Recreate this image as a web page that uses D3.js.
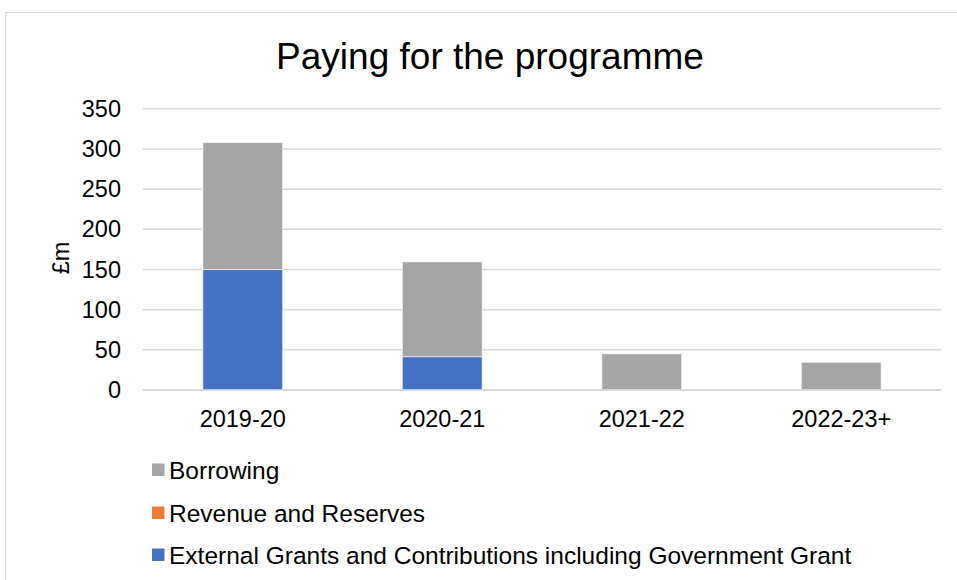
<!DOCTYPE html>
<html>
<head>
<meta charset="utf-8">
<script src="https://cdn.jsdelivr.net/npm/d3@7"></script>
<style>
  html, body { margin: 0; padding: 0; background: #fff; }
  svg { display: block; font-family: "Liberation Sans", Arial, sans-serif; }
</style>
</head>
<body>
<svg id="chart" width="957" height="580"></svg>
<script>
// Funding sources by year (£m)
const categories = ["2019-20", "2020-21", "2021-22", "2022-23+"];
const externalGrants = [150, 41.5, 0, 0];
const revenueReserves = [0, 0, 0, 0];
const borrowing = [158, 118, 45, 34.5];
const yTicks = [0, 50, 100, 150, 200, 250, 300, 350];

const seriesNames = [
  "External Grants and Contributions including Government Grant",
  "Revenue and Reserves",
  "Borrowing"
];
const seriesColors = ["#4472c4", "#ed7d31", "#a5a5a5"];

const rows = categories.map((c, i) => ({
  cat: c,
  [seriesNames[0]]: externalGrants[i],
  [seriesNames[1]]: revenueReserves[i],
  [seriesNames[2]]: borrowing[i]
}));

const svg = d3.select("#chart");

// chart frame
svg.append("rect")
  .attr("x", 5.5).attr("y", 12.5)
  .attr("width", 1200).attr("height", 1000)
  .attr("fill", "#fff").attr("stroke", "#d9d9d9").attr("stroke-width", 1);

const plot = { left: 143, right: 941, top: 108.8, bottom: 390 };

const x = d3.scaleBand().domain(categories)
  .range([plot.left, plot.right])
  .paddingInner(0.6).paddingOuter(0.3);

const y = d3.scaleLinear().domain([0, 350]).range([plot.bottom, plot.top]);

// gridlines
svg.append("g")
  .selectAll("line")
  .data(yTicks)
  .join("line")
  .attr("x1", plot.left).attr("x2", plot.right)
  .attr("y1", d => y(d)).attr("y2", d => y(d))
  .attr("stroke", "#d9d9d9").attr("stroke-width", 1.5);

// y axis labels
const yAxis = d3.axisLeft(y).tickValues(yTicks).tickSize(0).tickPadding(0);
svg.append("g")
  .attr("transform", `translate(121,0)`)
  .call(yAxis)
  .call(g => g.select(".domain").remove())
  .selectAll("text")
  .attr("font-size", 23.5)
  .attr("font-family", "Liberation Sans, Arial, sans-serif")
  .attr("fill", "#000");

// y axis title
svg.append("text")
  .attr("transform", "translate(69,258) rotate(-90)")
  .attr("text-anchor", "middle")
  .attr("font-size", 23.5)
  .attr("fill", "#000")
  .text("£m");

// stacked bars
const stack = d3.stack().keys(seriesNames);
const stacked = stack(rows);

svg.append("g")
  .selectAll("g")
  .data(stacked)
  .join("g")
  .attr("fill", (d, i) => seriesColors[i])
  .selectAll("rect")
  .data(d => d.filter(p => p[1] - p[0] > 0))
  .join("rect")
  .attr("x", d => x(d.data.cat))
  .attr("width", x.bandwidth())
  .attr("y", d => y(d[1]))
  .attr("height", d => y(d[0]) - y(d[1]))
  .attr("stroke", "#ffffff").attr("stroke-opacity", 0.6).attr("stroke-width", 1);

// baseline
svg.append("line")
  .attr("x1", plot.left).attr("x2", plot.right)
  .attr("y1", y(0)).attr("y2", y(0))
  .attr("stroke", "#d9d9d9").attr("stroke-width", 1.5);

// x axis labels
const xAxis = d3.axisBottom(x).tickSize(0).tickPadding(0);
svg.append("g")
  .attr("transform", `translate(0,${plot.bottom + 20})`)
  .call(xAxis)
  .call(g => g.select(".domain").remove())
  .selectAll("text")
  .attr("font-size", 23.5)
  .attr("font-family", "Liberation Sans, Arial, sans-serif")
  .attr("fill", "#000");

// title
svg.append("text")
  .attr("x", 490).attr("y", 69)
  .attr("text-anchor", "middle")
  .attr("font-size", 37)
  .attr("fill", "#000")
  .text("Paying for the programme");

// legend (reverse stack order)
const legendItems = seriesNames.map((n, i) => ({ name: n, color: seriesColors[i] })).reverse();
const legendY = [470, 513, 555];
const lg = svg.append("g")
  .selectAll("g")
  .data(legendItems)
  .join("g")
  .attr("transform", (d, i) => `translate(152,${legendY[i]})`);
lg.append("rect")
  .attr("x", 0).attr("y", -6.5).attr("width", 12.5).attr("height", 12.5)
  .attr("fill", d => d.color);
lg.append("text")
  .attr("x", 17).attr("y", 8.5)
  .attr("font-size", 24.5)
  .attr("fill", "#000")
  .text(d => d.name);
</script>
</body>
</html>
